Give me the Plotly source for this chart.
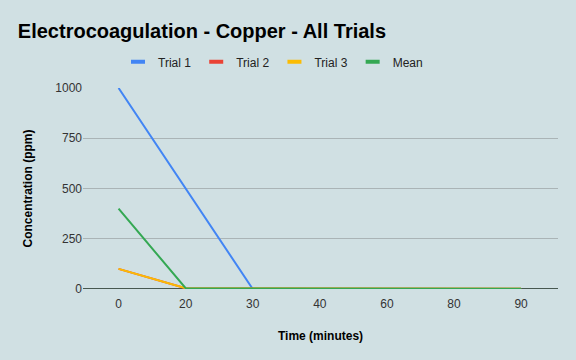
import plotly.graph_objects as go

time_labels = ["0", "20", "30", "40", "60", "80", "90"]
trial1 = [1000, None, 0, 0, 0, 0, 0]
trial2 = [100, 4, 3, 2, 2, 1, 1]
trial3 = [100, 4, 3, 2, 2, 1, 1]
mean = [400, 4, 2, 1.5, 1.3, 0.7, 0.7]

series = [
    ("Trial 1", trial1, "#4285f4"),
    ("Trial 2", trial2, "#ea4335"),
    ("Trial 3", trial3, "#fbbc04"),
    ("Mean", mean, "#34a853"),
]

fig = go.Figure()
for name, vals, col in series:
    fig.add_trace(go.Scatter(x=time_labels, y=vals, name=name, mode="lines",
                             line=dict(color=col, width=2), connectgaps=True,
                             showlegend=False, legendgroup=name))
# legend entries with short bar symbols (as in the reference)
for name, vals, col in series:
    fig.add_trace(go.Scatter(x=[None], y=[None], name=name, mode="markers",
                             marker=dict(symbol="line-ew", size=10,
                                         line=dict(color=col, width=4)),
                             legendgroup=name, showlegend=True))

bg = "#d0e0e3"
fig.update_layout(
    width=576, height=360,
    paper_bgcolor=bg, plot_bgcolor=bg,
    margin=dict(l=83, r=18, t=88, b=71),
    font=dict(family="Liberation Sans, Arial, sans-serif", size=12, color="#222"),
    title=dict(text="<b>Electrocoagulation - Copper - All Trials</b>",
               x=0.031, xanchor="left", y=0.915, yanchor="middle",
               font=dict(size=20, color="#000")),
    legend=dict(orientation="h", x=0.40, xanchor="center", y=1.13, yanchor="middle",
                font=dict(size=12, color="#222"), bgcolor="rgba(0,0,0,0)",
                itemwidth=30),
    showlegend=True,
)
fig.update_xaxes(type="category", range=[-0.53, 6.55], showgrid=False,
                 showline=False, ticks="", zeroline=False, ticklabelstandoff=6,
                 title=dict(text="<b>Time (minutes)</b>", font=dict(size=12, color="#000"), standoff=21),
                 tickfont=dict(size=12, color="#333"))
fig.update_yaxes(range=[0, 1000], tickvals=[0, 250, 500, 750, 1000],
                 showgrid=True, gridcolor="#aab4b6", gridwidth=1,
                 zeroline=False, showline=False, ticks="",
                 title=dict(text="<b>Concentration (ppm)</b>", font=dict(size=12, color="#000"), standoff=20),
                 tickfont=dict(size=12, color="#333"))
fig.add_shape(type="line", xref="paper", yref="y", x0=0, x1=1, y0=0, y1=0,
              line=dict(color="#1a2b1f", width=1.5), layer="below")

fig.write_html("out.html", config={"displayModeBar": False},
               post_script="document.body.style.margin='0';")
